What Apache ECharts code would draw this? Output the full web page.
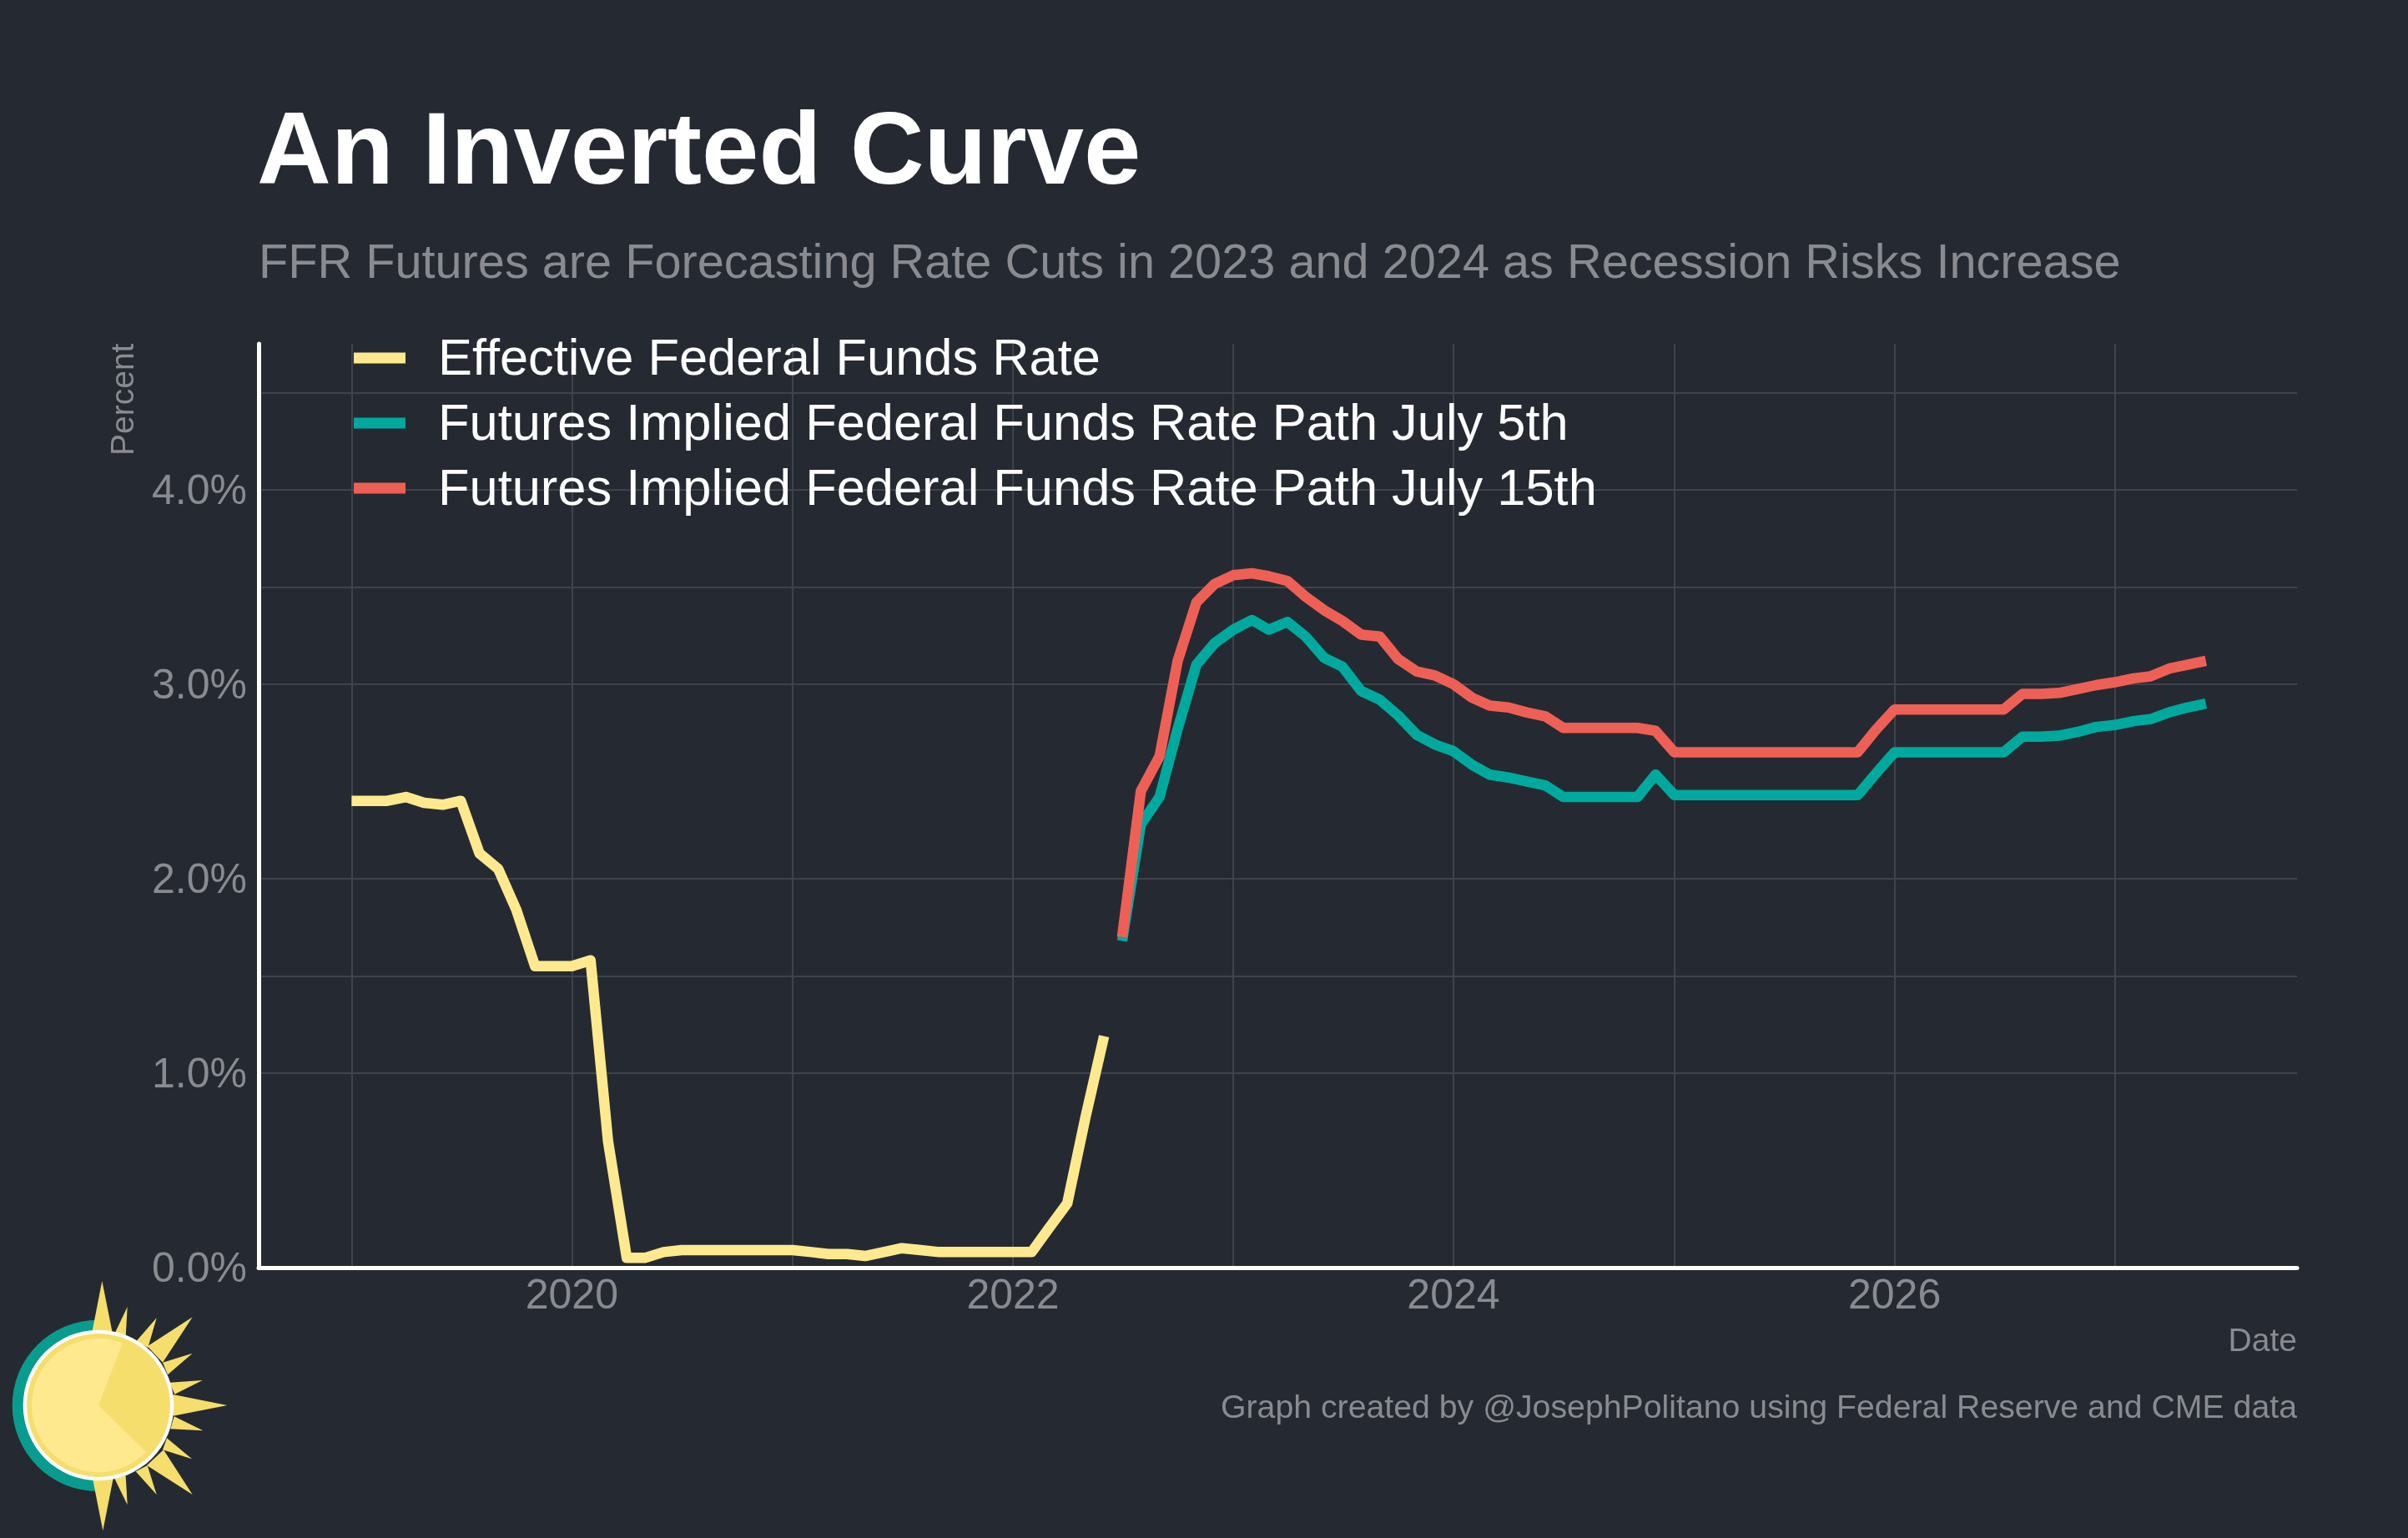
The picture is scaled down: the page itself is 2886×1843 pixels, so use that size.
<!DOCTYPE html>
<html>
<head>
<meta charset="utf-8">
<title>An Inverted Curve</title>
<script src="https://cdn.jsdelivr.net/npm/echarts@6/dist/echarts.min.js"></script>
<style>
	html,body{margin:0;padding:0;background:#252a32;}
	#chart{width:2886px;height:1843px;}
</style>
</head>
<body>
<div id="chart"></div>
<script>
// monthly values, percent
var effrValues=[
	2.40,2.40,2.40,2.42,2.39,2.38,2.40,2.13,2.05,1.84,1.55,1.55,
	1.55,1.58,0.65,0.05,0.05,0.08,0.09,0.09,0.09,0.09,0.09,0.09,
	0.09,0.08,0.07,0.07,0.06,0.08,0.10,0.09,0.08,0.08,0.08,0.08,
	0.08,0.08,0.20,0.33,0.77,1.19
];
var july5Values=[
	1.68,2.28,2.42,2.77,3.10,3.21,
	3.28,3.33,3.28,3.32,3.245,3.135,3.09,2.965,2.92,2.84,2.74,2.69,
	2.655,2.585,2.535,2.52,2.50,2.48,2.42,2.42,2.42,2.42,2.42,2.535,
	2.43,2.43,2.43,2.43,2.43,2.43,2.43,2.43,2.43,2.43,2.43,2.54,
	2.65,2.65,2.65,2.65,2.65,2.65,2.65,2.73,2.73,2.735,2.755,2.78,
	2.79,2.81,2.82,2.855,2.88,2.90
];
var july15Values=[
	1.70,2.45,2.63,3.12,3.42,3.515,
	3.56,3.57,3.555,3.53,3.45,3.38,3.325,3.255,3.245,3.13,3.065,3.045,
	3.00,2.93,2.89,2.88,2.855,2.835,2.775,2.775,2.775,2.775,2.775,2.76,
	2.65,2.65,2.65,2.65,2.65,2.65,2.65,2.65,2.65,2.65,2.65,2.765,
	2.87,2.87,2.87,2.87,2.87,2.87,2.87,2.95,2.95,2.955,2.975,2.995,
	3.01,3.03,3.04,3.08,3.10,3.12
];
var effrStart=[2019,1];
var futuresStart=[2022,7];
var yTickLabels=[0,1,2,3,4];
// the reference has no gridline at 0.5 and 2.5
var yGridLevels=[0,1,1.5,2,3,3.5,4,4.5];

var bg='#252a32', grey='#8a8b90', gridColor='#3f434c';
var fontName='"Liberation Sans",Arial,sans-serif';

// pairs a series with its months, starting from [year,month]
function withDates(values,start){
	return values.map(function(v,i){
		var m=start[1]-1+i;
		var y=start[0]+Math.floor(m/12);
		var mm=m%12+1;
		return [y+'-'+(mm<10?'0'+mm:mm)+'-01',v];
	});
}

function lineSeries(name,values,start,color){
	return {
		name:name,
		type:'line',
		data:withDates(values,start),
		showSymbol:false,
		symbol:'none',
		itemStyle:{color:color},
		lineStyle:{color:color,width:12.5,cap:'butt',join:'round'}
	};
}

// sun logo, points in a 3x space
var sunRays=[
	[[367,105],[330,295],[405,295]],
	[[458,198],[412,295],[452,305]],
	[[563,238],[490,322],[532,345]],
	[[692,235],[530,340],[585,398]],
	[[692,365],[585,398],[603,442]],
	[[728,462],[610,470],[628,512]],
	[[817,552],[622,513],[622,590]],
	[[730,643],[626,592],[613,637]],
	[[690,745],[600,670],[585,712]],
	[[692,873],[588,712],[528,768]],
	[[563,873],[530,768],[488,790]],
	[[458,910],[452,805],[412,815]],
	[[370,1003],[333,815],[407,815]]
];
var sunParts=[
	{type:'sector',shape:{cx:352,cy:553,r:308,startAngle:Math.PI/2,endAngle:Math.PI*3/2,clockwise:true},style:{fill:'#089c8f'}}
];
sunRays.forEach(function(r){
	sunParts.push({type:'polygon',shape:{points:r},style:{fill:'#f5de6c'}});
});
sunParts.push({type:'circle',shape:{cx:354,cy:552,r:271},style:{fill:'#ffffff'}});
sunParts.push({type:'circle',shape:{cx:354,cy:552,r:258},style:{fill:'#f5de6c'}});
sunParts.push({type:'circle',shape:{cx:354,cy:552,r:240},style:{fill:'#ffe98f'}});
sunParts.push({type:'sector',shape:{cx:354,cy:552,r:241,startAngle:-68.8*Math.PI/180,endAngle:44.5*Math.PI/180,clockwise:true},style:{fill:'#f5de6c'}});

var myChart=echarts.init(document.getElementById('chart'),null,{renderer:'canvas'});
var option={
	backgroundColor:bg,
	animation:false,
	textStyle:{fontFamily:fontName},
	title:[
		{
			text:'An Inverted Curve',
			left:308,top:125,padding:0,
			textStyle:{color:'#ffffff',fontSize:123,fontWeight:'bold',fontFamily:fontName}
		},
		{
			text:'FFR Futures are Forecasting Rate Cuts in 2023 and 2024 as Recession Risks Increase',
			left:310,top:288,padding:0,
			textStyle:{color:grey,fontSize:57.7,fontWeight:'normal',fontFamily:fontName}
		}
	],
	legend:{
		orient:'vertical',
		left:424,top:395,padding:0,
		itemWidth:62,itemHeight:13,itemGap:10,
		icon:'rect',
		formatter:function(name){return '{t|'+name+'}';},
		textStyle:{
			color:'#ffffff',fontSize:61.4,padding:[0,0,0,34],fontFamily:fontName,
			rich:{t:{color:'#ffffff',fontSize:61.4,lineHeight:60,fontFamily:fontName,padding:[7,0,0,0]}}
		},
		data:['Effective Federal Funds Rate','Futures Implied Federal Funds Rate Path July 5th','Futures Implied Federal Funds Rate Path July 15th']
	},
	grid:{left:310,right:133,top:412,bottom:324,containLabel:false},
	xAxis:{
		type:'time',
		min:'2018-07-31',
		max:'2027-10-30',
		minInterval:365*24*3600*1000,
		maxInterval:366*24*3600*1000,
		axisLine:{show:true,lineStyle:{color:'#ffffff',width:5}},
		axisTick:{show:false},
		axisLabel:{
			color:grey,fontSize:50,margin:10,hideOverlap:false,showMinLabel:false,showMaxLabel:false,
			fontFamily:fontName,
			formatter:function(value){
				var d=new Date(value);
				if(d.getMonth()!==0||d.getDate()!==1||d.getFullYear()%2!==0){return '';}
				return ''+d.getFullYear();
			}
		},
		splitLine:{show:true,showMinLine:false,showMaxLine:false,lineStyle:{color:gridColor,width:2}}
	},
	yAxis:{
		type:'value',
		min:0,max:4.75,
		axisLine:{show:true,lineStyle:{color:'#ffffff',width:5}},
		axisTick:{show:false,customValues:yGridLevels},
		axisLabel:{
			color:grey,fontSize:50,margin:14,fontFamily:fontName,
			customValues:yTickLabels,
			formatter:function(value){
				return '{v|'+value.toFixed(1)+'%}';
			},
			rich:{v:{color:grey,fontSize:50,fontFamily:fontName,padding:[7,0,0,0]}}
		},
		splitLine:{show:true,lineStyle:{color:gridColor,width:2}}
	},
	series:[
		lineSeries('Effective Federal Funds Rate',effrValues,effrStart,'#ffe98f'),
		lineSeries('Futures Implied Federal Funds Rate Path July 5th',july5Values,futuresStart,'#00a99d'),
		lineSeries('Futures Implied Federal Funds Rate Path July 15th',july15Values,futuresStart,'#ee6055')
	],
	graphic:[
		{type:'text',x:130,y:546,rotation:Math.PI/2,style:{text:'Percent',fill:grey,font:'39px '+fontName,textAlign:'left',textVerticalAlign:'top'}},
		{type:'text',x:2753,y:1608,style:{text:'Date',fill:grey,font:'39px '+fontName,textAlign:'right',textVerticalAlign:'middle'}},
		{type:'text',x:2753,y:1688,style:{text:'Graph created by @JosephPolitano using Federal Reserve and CME data',fill:grey,font:'39.25px '+fontName,textAlign:'right',textVerticalAlign:'middle'}},
		{type:'group',x:0,y:1500,scaleX:1/3,scaleY:1/3,children:sunParts}
	]
};
myChart.setOption(option);
</script>
</body>
</html>
